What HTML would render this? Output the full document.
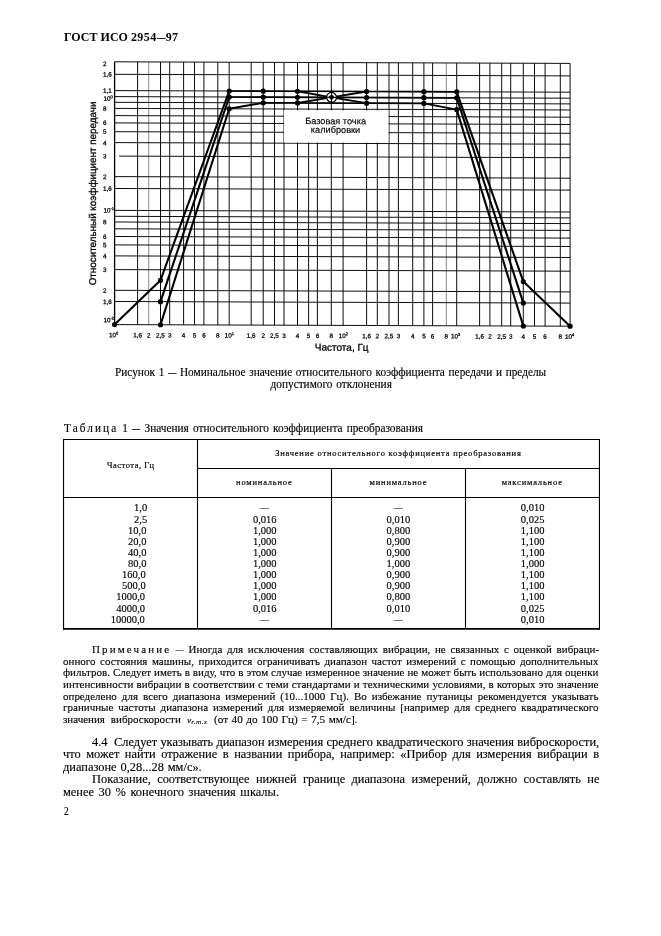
<!DOCTYPE html>
<html lang="ru">
<head>
<meta charset="utf-8">
<title>ГОСТ ИСО 2954—97</title>
<style>
html,body{margin:0;padding:0;background:#fff;}
body{width:661px;height:936px;position:relative;overflow:hidden;color:#000;}
.t{position:absolute;white-space:nowrap;margin:0;padding:0;-webkit-text-stroke:0.14px #000;}
.ln{position:absolute;background:#000;}
svg{position:absolute;left:0;top:0;}
svg text{font-family:'Liberation Sans',sans-serif;fill:#000;}
</style>
</head>
<body>
<svg width="661" height="936" viewBox="0 0 661 936">
<g transform="matrix(1 0.00351 0 1 0 -0.403)">
<line x1="114.60" y1="61.80" x2="114.60" y2="324.60" stroke="#000" stroke-width="1.3"/>
<line x1="137.60" y1="61.80" x2="137.60" y2="324.60" stroke="#000" stroke-width="0.95"/>
<line x1="148.70" y1="61.80" x2="148.70" y2="324.60" stroke="#888" stroke-width="1"/>
<line x1="160.50" y1="61.80" x2="160.50" y2="324.60" stroke="#000" stroke-width="0.95"/>
<line x1="169.70" y1="61.80" x2="169.70" y2="324.60" stroke="#000" stroke-width="0.95"/>
<line x1="183.60" y1="61.80" x2="183.60" y2="324.60" stroke="#000" stroke-width="0.95"/>
<line x1="194.50" y1="61.80" x2="194.50" y2="324.60" stroke="#000" stroke-width="0.95"/>
<line x1="203.90" y1="61.80" x2="203.90" y2="324.60" stroke="#000" stroke-width="0.95"/>
<line x1="217.80" y1="61.80" x2="217.80" y2="324.60" stroke="#000" stroke-width="0.95"/>
<line x1="229.20" y1="61.80" x2="229.20" y2="324.60" stroke="#000" stroke-width="0.95"/>
<line x1="251.20" y1="61.80" x2="251.20" y2="324.60" stroke="#000" stroke-width="0.95"/>
<line x1="263.20" y1="61.80" x2="263.20" y2="324.60" stroke="#000" stroke-width="0.95"/>
<line x1="274.50" y1="61.80" x2="274.50" y2="324.60" stroke="#000" stroke-width="0.95"/>
<line x1="284.00" y1="61.80" x2="284.00" y2="324.60" stroke="#000" stroke-width="0.95"/>
<line x1="297.50" y1="61.80" x2="297.50" y2="324.60" stroke="#000" stroke-width="0.95"/>
<line x1="308.60" y1="61.80" x2="308.60" y2="324.60" stroke="#000" stroke-width="0.95"/>
<line x1="317.40" y1="61.80" x2="317.40" y2="324.60" stroke="#000" stroke-width="0.95"/>
<line x1="331.30" y1="61.80" x2="331.30" y2="324.60" stroke="#000" stroke-width="0.95"/>
<line x1="343.10" y1="61.80" x2="343.10" y2="324.60" stroke="#000" stroke-width="0.95"/>
<line x1="366.60" y1="61.80" x2="366.60" y2="324.60" stroke="#000" stroke-width="0.95"/>
<line x1="377.30" y1="61.80" x2="377.30" y2="324.60" stroke="#000" stroke-width="0.95"/>
<line x1="389.00" y1="61.80" x2="389.00" y2="324.60" stroke="#000" stroke-width="0.95"/>
<line x1="398.40" y1="61.80" x2="398.40" y2="324.60" stroke="#000" stroke-width="0.95"/>
<line x1="412.70" y1="61.80" x2="412.70" y2="324.60" stroke="#000" stroke-width="0.95"/>
<line x1="423.90" y1="61.80" x2="423.90" y2="324.60" stroke="#000" stroke-width="0.95"/>
<line x1="432.60" y1="61.80" x2="432.60" y2="324.60" stroke="#000" stroke-width="0.95"/>
<line x1="446.30" y1="61.80" x2="446.30" y2="324.60" stroke="#888" stroke-width="1"/>
<line x1="456.70" y1="61.80" x2="456.70" y2="324.60" stroke="#000" stroke-width="0.95"/>
<line x1="479.60" y1="61.80" x2="479.60" y2="324.60" stroke="#000" stroke-width="0.95"/>
<line x1="489.90" y1="61.80" x2="489.90" y2="324.60" stroke="#000" stroke-width="0.95"/>
<line x1="501.70" y1="61.80" x2="501.70" y2="324.60" stroke="#000" stroke-width="0.95"/>
<line x1="510.70" y1="61.80" x2="510.70" y2="324.60" stroke="#000" stroke-width="0.95"/>
<line x1="523.30" y1="61.80" x2="523.30" y2="324.60" stroke="#000" stroke-width="0.95"/>
<line x1="534.50" y1="61.80" x2="534.50" y2="324.60" stroke="#000" stroke-width="0.95"/>
<line x1="545.10" y1="61.80" x2="545.10" y2="324.60" stroke="#000" stroke-width="0.95"/>
<line x1="560.30" y1="61.80" x2="560.30" y2="324.60" stroke="#000" stroke-width="0.95"/>
<line x1="570.10" y1="61.80" x2="570.10" y2="324.60" stroke="#000" stroke-width="0.95"/>
<line x1="114.60" y1="61.80" x2="570.10" y2="61.80" stroke="#000" stroke-width="0.95"/>
<line x1="114.60" y1="74.30" x2="570.10" y2="74.30" stroke="#000" stroke-width="0.95"/>
<line x1="114.60" y1="90.60" x2="570.10" y2="90.60" stroke="#000" stroke-width="0.95"/>
<line x1="114.60" y1="96.60" x2="570.10" y2="96.60" stroke="#000" stroke-width="0.95"/>
<line x1="114.60" y1="102.30" x2="570.10" y2="102.30" stroke="#000" stroke-width="0.95"/>
<line x1="114.60" y1="108.40" x2="570.10" y2="108.40" stroke="#000" stroke-width="0.95"/>
<line x1="114.60" y1="115.60" x2="570.10" y2="115.60" stroke="#000" stroke-width="0.95"/>
<line x1="114.60" y1="122.90" x2="570.10" y2="122.90" stroke="#000" stroke-width="0.95"/>
<line x1="114.60" y1="131.70" x2="570.10" y2="131.70" stroke="#000" stroke-width="0.95"/>
<line x1="114.60" y1="142.60" x2="570.10" y2="142.60" stroke="#000" stroke-width="0.95"/>
<line x1="119.10" y1="156.10" x2="570.10" y2="156.10" stroke="#000" stroke-width="0.95"/>
<line x1="114.60" y1="176.60" x2="570.10" y2="176.60" stroke="#000" stroke-width="0.95"/>
<line x1="114.60" y1="188.50" x2="570.10" y2="188.50" stroke="#000" stroke-width="0.95"/>
<line x1="114.60" y1="210.40" x2="570.10" y2="210.40" stroke="#000" stroke-width="0.95"/>
<line x1="114.60" y1="216.30" x2="570.10" y2="216.30" stroke="#000" stroke-width="0.95"/>
<line x1="114.60" y1="222.00" x2="570.10" y2="222.00" stroke="#000" stroke-width="0.95"/>
<line x1="114.60" y1="228.80" x2="570.10" y2="228.80" stroke="#000" stroke-width="0.95"/>
<line x1="114.60" y1="236.50" x2="570.10" y2="236.50" stroke="#000" stroke-width="0.95"/>
<line x1="114.60" y1="244.90" x2="570.10" y2="244.90" stroke="#000" stroke-width="0.95"/>
<line x1="114.60" y1="255.90" x2="570.10" y2="255.90" stroke="#000" stroke-width="0.95"/>
<line x1="114.60" y1="269.60" x2="570.10" y2="269.60" stroke="#000" stroke-width="0.95"/>
<line x1="114.60" y1="290.30" x2="570.10" y2="290.30" stroke="#000" stroke-width="0.95"/>
<line x1="114.60" y1="301.50" x2="570.10" y2="301.50" stroke="#000" stroke-width="0.95"/>
<line x1="114.60" y1="324.60" x2="570.10" y2="324.60" stroke="#000" stroke-width="0.95"/>
<rect x="284" y="109.6" width="104.5" height="32.2" fill="#fff"/>
<polyline fill="none" stroke="#000" stroke-width="2.1" stroke-linejoin="round" stroke-linecap="round" points="114.60,324.60 160.50,280.10"/>
<polyline fill="none" stroke="#000" stroke-width="2.1" stroke-linejoin="round" stroke-linecap="round" points="160.50,280.10 229.20,90.60"/>
<polyline fill="none" stroke="#000" stroke-width="1.7" stroke-linejoin="round" stroke-linecap="round" points="229.20,90.60 263.20,90.60"/>
<polyline fill="none" stroke="#000" stroke-width="1.7" stroke-linejoin="round" stroke-linecap="round" points="263.20,90.60 297.50,90.60"/>
<polyline fill="none" stroke="#000" stroke-width="1.9" stroke-linejoin="round" stroke-linecap="round" points="297.50,90.60 331.30,96.60"/>
<polyline fill="none" stroke="#000" stroke-width="1.9" stroke-linejoin="round" stroke-linecap="round" points="331.30,96.60 366.60,90.60"/>
<polyline fill="none" stroke="#000" stroke-width="1.7" stroke-linejoin="round" stroke-linecap="round" points="366.60,90.60 423.90,90.60"/>
<polyline fill="none" stroke="#000" stroke-width="1.7" stroke-linejoin="round" stroke-linecap="round" points="423.90,90.60 456.70,90.60"/>
<polyline fill="none" stroke="#000" stroke-width="2.1" stroke-linejoin="round" stroke-linecap="round" points="456.70,90.60 523.30,280.10"/>
<polyline fill="none" stroke="#000" stroke-width="2.1" stroke-linejoin="round" stroke-linecap="round" points="523.30,280.10 570.10,324.60"/>
<polyline fill="none" stroke="#000" stroke-width="2.1" stroke-linejoin="round" stroke-linecap="round" points="160.50,301.50 229.20,96.60"/>
<polyline fill="none" stroke="#000" stroke-width="1.7" stroke-linejoin="round" stroke-linecap="round" points="229.20,96.60 456.70,96.60"/>
<polyline fill="none" stroke="#000" stroke-width="2.1" stroke-linejoin="round" stroke-linecap="round" points="456.70,96.60 523.30,301.50"/>
<polyline fill="none" stroke="#000" stroke-width="2.1" stroke-linejoin="round" stroke-linecap="round" points="160.50,324.60 229.20,108.40"/>
<polyline fill="none" stroke="#000" stroke-width="1.9" stroke-linejoin="round" stroke-linecap="round" points="229.20,108.40 263.20,102.30"/>
<polyline fill="none" stroke="#000" stroke-width="1.7" stroke-linejoin="round" stroke-linecap="round" points="263.20,102.30 297.50,102.30"/>
<polyline fill="none" stroke="#000" stroke-width="1.9" stroke-linejoin="round" stroke-linecap="round" points="297.50,102.30 331.30,96.60"/>
<polyline fill="none" stroke="#000" stroke-width="1.9" stroke-linejoin="round" stroke-linecap="round" points="331.30,96.60 366.60,102.30"/>
<polyline fill="none" stroke="#000" stroke-width="1.7" stroke-linejoin="round" stroke-linecap="round" points="366.60,102.30 423.90,102.30"/>
<polyline fill="none" stroke="#000" stroke-width="1.9" stroke-linejoin="round" stroke-linecap="round" points="423.90,102.30 456.70,108.40"/>
<polyline fill="none" stroke="#000" stroke-width="2.1" stroke-linejoin="round" stroke-linecap="round" points="456.70,108.40 523.30,324.60"/>
<polyline fill="none" stroke="#000" stroke-width="1.5" stroke-linejoin="round" stroke-linecap="round" points="297.50,90.60 366.60,90.60"/>
<polyline fill="none" stroke="#000" stroke-width="1.5" stroke-linejoin="round" stroke-linecap="round" points="297.50,102.30 366.60,102.30"/>
<circle cx="114.60" cy="324.60" r="2.6" fill="#000"/>
<circle cx="160.50" cy="280.10" r="2.6" fill="#000"/>
<circle cx="160.50" cy="301.50" r="2.6" fill="#000"/>
<circle cx="160.50" cy="324.60" r="2.6" fill="#000"/>
<circle cx="523.30" cy="280.10" r="2.6" fill="#000"/>
<circle cx="523.30" cy="301.50" r="2.6" fill="#000"/>
<circle cx="523.30" cy="324.60" r="2.6" fill="#000"/>
<circle cx="570.10" cy="324.60" r="2.6" fill="#000"/>
<circle cx="229.20" cy="90.60" r="2.6" fill="#000"/>
<circle cx="229.20" cy="96.60" r="2.6" fill="#000"/>
<circle cx="229.20" cy="108.40" r="2.6" fill="#000"/>
<circle cx="456.70" cy="90.60" r="2.6" fill="#000"/>
<circle cx="456.70" cy="96.60" r="2.6" fill="#000"/>
<circle cx="456.70" cy="108.40" r="2.6" fill="#000"/>
<circle cx="263.20" cy="90.60" r="2.6" fill="#000"/>
<circle cx="263.20" cy="96.60" r="2.6" fill="#000"/>
<circle cx="263.20" cy="102.30" r="2.6" fill="#000"/>
<circle cx="297.50" cy="90.60" r="2.6" fill="#000"/>
<circle cx="297.50" cy="96.60" r="2.6" fill="#000"/>
<circle cx="297.50" cy="102.30" r="2.6" fill="#000"/>
<circle cx="366.60" cy="90.60" r="2.6" fill="#000"/>
<circle cx="366.60" cy="96.60" r="2.6" fill="#000"/>
<circle cx="366.60" cy="102.30" r="2.6" fill="#000"/>
<circle cx="423.90" cy="90.60" r="2.6" fill="#000"/>
<circle cx="423.90" cy="96.60" r="2.6" fill="#000"/>
<circle cx="423.90" cy="102.30" r="2.6" fill="#000"/>
<circle cx="331.55" cy="96.60" r="4.9" fill="#fff" stroke="#000" stroke-width="1.3"/>
<path d="M328.25 96.60L331.55 93.60L334.85 96.60L331.55 99.60Z" fill="#000"/>
<path d="M326.55 96.60H336.55M331.55 91.60V101.60" stroke="#000" stroke-width="1" fill="none"/>
<text x="103" y="66.00" font-size="6.3" stroke="#000" stroke-width="0.25">2</text>
<text x="103" y="76.60" font-size="6.3" stroke="#000" stroke-width="0.25">1,6</text>
<text x="103" y="92.80" font-size="6.3" stroke="#000" stroke-width="0.25">1,1</text>
<text x="103" y="111.00" font-size="6.3" stroke="#000" stroke-width="0.25">8</text>
<text x="103" y="125.10" font-size="6.3" stroke="#000" stroke-width="0.25">6</text>
<text x="103" y="133.90" font-size="6.3" stroke="#000" stroke-width="0.25">5</text>
<text x="103" y="145.30" font-size="6.3" stroke="#000" stroke-width="0.25">4</text>
<text x="103" y="158.60" font-size="6.3" stroke="#000" stroke-width="0.25">3</text>
<text x="103" y="179.00" font-size="6.3" stroke="#000" stroke-width="0.25">2</text>
<text x="103" y="190.80" font-size="6.3" stroke="#000" stroke-width="0.25">1,6</text>
<text x="103" y="224.30" font-size="6.3" stroke="#000" stroke-width="0.25">8</text>
<text x="103" y="239.10" font-size="6.3" stroke="#000" stroke-width="0.25">6</text>
<text x="103" y="247.20" font-size="6.3" stroke="#000" stroke-width="0.25">5</text>
<text x="103" y="258.40" font-size="6.3" stroke="#000" stroke-width="0.25">4</text>
<text x="103" y="272.00" font-size="6.3" stroke="#000" stroke-width="0.25">3</text>
<text x="103" y="292.70" font-size="6.3" stroke="#000" stroke-width="0.25">2</text>
<text x="103" y="304.00" font-size="6.3" stroke="#000" stroke-width="0.25">1,6</text>
<text x="103.50" y="100.90" font-size="6.3" stroke="#000" stroke-width="0.25">10<tspan dy="-2.7" font-size="4">0</tspan></text>
<text x="103.50" y="212.60" font-size="6.3" stroke="#000" stroke-width="0.25">10<tspan dy="-2.7" font-size="4">-1</tspan></text>
<text x="103.50" y="322.20" font-size="6.3" stroke="#000" stroke-width="0.25">10<tspan dy="-2.7" font-size="4">-2</tspan></text>
<text x="137.60" y="337.3" font-size="6.3" text-anchor="middle" stroke="#000" stroke-width="0.25">1,6</text>
<text x="148.70" y="337.3" font-size="6.3" text-anchor="middle" stroke="#000" stroke-width="0.25">2</text>
<text x="160.50" y="337.3" font-size="6.3" text-anchor="middle" stroke="#000" stroke-width="0.25">2,5</text>
<text x="169.70" y="337.3" font-size="6.3" text-anchor="middle" stroke="#000" stroke-width="0.25">3</text>
<text x="183.60" y="337.3" font-size="6.3" text-anchor="middle" stroke="#000" stroke-width="0.25">4</text>
<text x="194.50" y="337.3" font-size="6.3" text-anchor="middle" stroke="#000" stroke-width="0.25">5</text>
<text x="203.90" y="337.3" font-size="6.3" text-anchor="middle" stroke="#000" stroke-width="0.25">6</text>
<text x="217.80" y="337.3" font-size="6.3" text-anchor="middle" stroke="#000" stroke-width="0.25">8</text>
<text x="251.20" y="337.3" font-size="6.3" text-anchor="middle" stroke="#000" stroke-width="0.25">1,6</text>
<text x="263.20" y="337.3" font-size="6.3" text-anchor="middle" stroke="#000" stroke-width="0.25">2</text>
<text x="274.50" y="337.3" font-size="6.3" text-anchor="middle" stroke="#000" stroke-width="0.25">2,5</text>
<text x="284.00" y="337.3" font-size="6.3" text-anchor="middle" stroke="#000" stroke-width="0.25">3</text>
<text x="297.50" y="337.3" font-size="6.3" text-anchor="middle" stroke="#000" stroke-width="0.25">4</text>
<text x="308.60" y="337.3" font-size="6.3" text-anchor="middle" stroke="#000" stroke-width="0.25">5</text>
<text x="317.40" y="337.3" font-size="6.3" text-anchor="middle" stroke="#000" stroke-width="0.25">6</text>
<text x="331.30" y="337.3" font-size="6.3" text-anchor="middle" stroke="#000" stroke-width="0.25">8</text>
<text x="366.60" y="337.3" font-size="6.3" text-anchor="middle" stroke="#000" stroke-width="0.25">1,6</text>
<text x="377.30" y="337.3" font-size="6.3" text-anchor="middle" stroke="#000" stroke-width="0.25">2</text>
<text x="389.00" y="337.3" font-size="6.3" text-anchor="middle" stroke="#000" stroke-width="0.25">2,5</text>
<text x="398.40" y="337.3" font-size="6.3" text-anchor="middle" stroke="#000" stroke-width="0.25">3</text>
<text x="412.70" y="337.3" font-size="6.3" text-anchor="middle" stroke="#000" stroke-width="0.25">4</text>
<text x="423.90" y="337.3" font-size="6.3" text-anchor="middle" stroke="#000" stroke-width="0.25">5</text>
<text x="432.60" y="337.3" font-size="6.3" text-anchor="middle" stroke="#000" stroke-width="0.25">6</text>
<text x="446.30" y="337.3" font-size="6.3" text-anchor="middle" stroke="#000" stroke-width="0.25">8</text>
<text x="479.60" y="337.3" font-size="6.3" text-anchor="middle" stroke="#000" stroke-width="0.25">1,6</text>
<text x="489.90" y="337.3" font-size="6.3" text-anchor="middle" stroke="#000" stroke-width="0.25">2</text>
<text x="501.70" y="337.3" font-size="6.3" text-anchor="middle" stroke="#000" stroke-width="0.25">2,5</text>
<text x="510.70" y="337.3" font-size="6.3" text-anchor="middle" stroke="#000" stroke-width="0.25">3</text>
<text x="523.30" y="337.3" font-size="6.3" text-anchor="middle" stroke="#000" stroke-width="0.25">4</text>
<text x="534.50" y="337.3" font-size="6.3" text-anchor="middle" stroke="#000" stroke-width="0.25">5</text>
<text x="545.10" y="337.3" font-size="6.3" text-anchor="middle" stroke="#000" stroke-width="0.25">6</text>
<text x="560.30" y="337.3" font-size="6.3" text-anchor="middle" stroke="#000" stroke-width="0.25">8</text>
<text x="109.00" y="337.20" font-size="6.3" stroke="#000" stroke-width="0.25">10<tspan dy="-2.7" font-size="4">0</tspan></text>
<text x="224.70" y="337.20" font-size="6.3" stroke="#000" stroke-width="0.25">10<tspan dy="-2.7" font-size="4">1</tspan></text>
<text x="338.70" y="337.20" font-size="6.3" stroke="#000" stroke-width="0.25">10<tspan dy="-2.7" font-size="4">2</tspan></text>
<text x="450.90" y="337.20" font-size="6.3" stroke="#000" stroke-width="0.25">10<tspan dy="-2.7" font-size="4">3</tspan></text>
<text x="564.90" y="337.20" font-size="6.3" stroke="#000" stroke-width="0.25">10<tspan dy="-2.7" font-size="4">4</tspan></text>
<text x="341.7" y="349.9" font-size="10" text-anchor="middle" stroke="#000" stroke-width="0.3">Частота, Гц</text>
<text transform="translate(95.7,193.5) rotate(-90)" font-size="9.85" text-anchor="middle" stroke="#000" stroke-width="0.3">Относительный коэффициент передачи</text>
<text x="335.6" y="123.4" font-size="9.2" text-anchor="middle" stroke="#000" stroke-width="0.15">Базовая точка</text>
<text x="335.5" y="132.1" font-size="9.2" text-anchor="middle" stroke="#000" stroke-width="0.15">калибровки</text>
</g>
</svg>
<svg width="661" height="936" viewBox="0 0 661 936">
<g stroke="#000" stroke-width="1.1" fill="none">
<path d="M63 439.45H600"/>
<path d="M197.5 468.5H600"/>
<path d="M63 497.5H600"/>
<path d="M63.55 439V629.8"/>
<path d="M197.5 439V629"/>
<path d="M331.5 468.5V629"/>
<path d="M465.5 468.5V629"/>
<path d="M599.45 439V629.8"/>
<path d="M63 628.95H600" stroke-width="1.7"/>
</g>
</svg>
<div class="t" style="left:64.00px;top:30.00px;font:bold 12px/15px 'Liberation Serif', serif;-webkit-text-stroke:0;transform:scaleX(1.0013);transform-origin:0 0;">ГОСТ ИСО <span style="letter-spacing:0.45px">2954</span><span style="display:inline-block;transform:scaleX(0.74);margin:0 -1.56px">—</span><span style="letter-spacing:0.3px">97</span></div>
<div class="t" style="left:114.90px;top:364.80px;font:normal 11.6px/15px 'Liberation Serif', serif;word-spacing:0.886px;transform:scaleX(0.9750);transform-origin:0 0;">Рисунок 1 <span style="display:inline-block;transform:scaleX(0.72);margin:0 -1.62px">—</span> Номинальное значение относительного коэффициента передачи и пределы</div>
<div class="t" style="left:268.78px;top:376.80px;font:normal 11.6px/15px 'Liberation Serif', serif;word-spacing:1px;transform:scaleX(0.9750);transform-origin:50% 0;">допустимого отклонения</div>
<div class="t" style="left:64.00px;top:420.80px;font:normal 11.6px/15px 'Liberation Serif', serif;word-spacing:1.378px;transform:scaleX(0.9750);transform-origin:0 0;"><span style="letter-spacing:2.1px">Таблица</span> 1 <span style="display:inline-block;transform:scaleX(0.72);margin:0 -1.62px">—</span> Значения относительного коэффициента преобразования</div>
<div class="t" style="left:91.70px;top:642.10px;font:normal 11.4px/15px 'Liberation Serif', serif;word-spacing:2.036px;transform:scaleX(0.9650);transform-origin:0 0;"><span style="letter-spacing:2.2px">Примечание</span> <span style="display:inline-block;transform:scaleX(0.72);margin:0 -1.60px">—</span> Иногда для исключения составляющих вибрации, не связанных с оценкой вибраци-</div>
<div class="t" style="left:63.40px;top:653.70px;font:normal 11.4px/15px 'Liberation Serif', serif;word-spacing:1.837px;transform:scaleX(0.9650);transform-origin:0 0;">онного состояния машины, приходится ограничивать диапазон частот измерений с помощью дополнительных</div>
<div class="t" style="left:63.40px;top:665.30px;font:normal 11.4px/15px 'Liberation Serif', serif;word-spacing:0.254px;transform:scaleX(0.9650);transform-origin:0 0;">фильтров. Следует иметь в виду, что в этом случае измеренное значение не может быть использовано для оценки</div>
<div class="t" style="left:63.40px;top:676.90px;font:normal 11.4px/15px 'Liberation Serif', serif;word-spacing:0.392px;transform:scaleX(0.9650);transform-origin:0 0;">интенсивности вибрации в соответствии с теми стандартами и техническими условиями, в которых это значение</div>
<div class="t" style="left:63.40px;top:688.50px;font:normal 11.4px/15px 'Liberation Serif', serif;word-spacing:2.374px;transform:scaleX(0.9650);transform-origin:0 0;">определено для всего диапазона измерений (10...1000 Гц). Во избежание путаницы рекомендуется указывать</div>
<div class="t" style="left:63.40px;top:700.10px;font:normal 11.4px/15px 'Liberation Serif', serif;word-spacing:2.221px;transform:scaleX(0.9650);transform-origin:0 0;">граничные частоты диапазона измерений для измеряемой величины [например для среднего квадратического</div>
<div class="t" style="left:63.40px;top:711.70px;font:normal 11.4px/15px 'Liberation Serif', serif;word-spacing:3.354px;transform:scaleX(0.9650);transform-origin:0 0;">значения виброскорости</div>
<div class="t" style="left:186.60px;top:714.70px;font:normal 8.5px/11px 'Liberation Serif', serif;transform:scaleX(1.1229);transform-origin:0 0;"><i>v<span style="font-size:6.5px;letter-spacing:0.4px;position:relative;top:1px">r.m.s</span></i></div>
<div class="t" style="left:213.90px;top:711.70px;font:normal 11.4px/15px 'Liberation Serif', serif;word-spacing:0.812px;transform:scaleX(0.9800);transform-origin:0 0;">(от 40 до 100 Гц) = 7,5 мм/с].</div>
<div class="t" style="left:92.00px;top:733.70px;font:normal 12.6px/16px 'Liberation Serif', serif;word-spacing:0.174px;transform:scaleX(0.9850);transform-origin:0 0;">4.4&nbsp; Следует указывать диапазон измерения среднего квадратического значения виброскорости,</div>
<div class="t" style="left:63.20px;top:746.20px;font:normal 12.6px/16px 'Liberation Serif', serif;word-spacing:2.473px;transform:scaleX(0.9850);transform-origin:0 0;">что может найти отражение в названии прибора, например: «Прибор для измерения вибрации в</div>
<div class="t" style="left:63.20px;top:758.70px;font:normal 12.6px/16px 'Liberation Serif', serif;word-spacing:0.765px;transform:scaleX(0.9850);transform-origin:0 0;">диапазоне 0,28...28 мм/с».</div>
<div class="t" style="left:91.80px;top:771.20px;font:normal 12.6px/16px 'Liberation Serif', serif;word-spacing:3.311px;transform:scaleX(0.9850);transform-origin:0 0;">Показание, соответствующее нижней границе диапазона измерений, должно составлять не</div>
<div class="t" style="left:63.20px;top:783.70px;font:normal 12.6px/16px 'Liberation Serif', serif;word-spacing:1.489px;transform:scaleX(0.9850);transform-origin:0 0;">менее 30 % конечного значения шкалы.</div>
<div class="t" style="left:63.60px;top:804.00px;font:normal 11.8px/15px 'Liberation Serif', serif;transform:scaleX(0.7958);transform-origin:0 0;">2</div>
<div class="t" style="left:107.10px;top:460.10px;font:normal 8.5px/11px 'Liberation Serif', serif;-webkit-text-stroke:0.18px #000;letter-spacing:0.487px;">Частота, Гц</div>
<div class="t" style="left:275.15px;top:448.10px;font:normal 8.5px/11px 'Liberation Serif', serif;-webkit-text-stroke:0.18px #000;letter-spacing:0.789px;">Значение относительного коэффициента преобразования</div>
<div class="t" style="left:236.05px;top:476.60px;font:normal 8.5px/11px 'Liberation Serif', serif;-webkit-text-stroke:0.18px #000;letter-spacing:0.793px;">номинальное</div>
<div class="t" style="left:369.55px;top:476.60px;font:normal 8.5px/11px 'Liberation Serif', serif;-webkit-text-stroke:0.18px #000;letter-spacing:0.790px;">минимальное</div>
<div class="t" style="left:501.65px;top:476.60px;font:normal 8.5px/11px 'Liberation Serif', serif;-webkit-text-stroke:0.18px #000;letter-spacing:0.818px;">максимальное</div>
<div class="t" style="left:134.07px;top:501.40px;font:normal 10.5px/14px 'Liberation Serif', serif;">1,0</div>
<div class="t" style="left:260.07px;top:501.40px;font:normal 10.5px/14px 'Liberation Serif', serif;"><span style="display:inline-block;transform:scaleX(0.88);margin:0 -0.63px">—</span></div>
<div class="t" style="left:393.77px;top:501.40px;font:normal 10.5px/14px 'Liberation Serif', serif;"><span style="display:inline-block;transform:scaleX(0.88);margin:0 -0.63px">—</span></div>
<div class="t" style="left:520.79px;top:501.40px;font:normal 10.5px/14px 'Liberation Serif', serif;">0,010</div>
<div class="t" style="left:134.07px;top:512.50px;font:normal 10.5px/14px 'Liberation Serif', serif;">2,5</div>
<div class="t" style="left:252.89px;top:512.50px;font:normal 10.5px/14px 'Liberation Serif', serif;">0,016</div>
<div class="t" style="left:386.59px;top:512.50px;font:normal 10.5px/14px 'Liberation Serif', serif;">0,010</div>
<div class="t" style="left:520.79px;top:512.50px;font:normal 10.5px/14px 'Liberation Serif', serif;">0,025</div>
<div class="t" style="left:128.03px;top:523.75px;font:normal 10.5px/14px 'Liberation Serif', serif;">10,0</div>
<div class="t" style="left:252.89px;top:523.75px;font:normal 10.5px/14px 'Liberation Serif', serif;">1,000</div>
<div class="t" style="left:386.59px;top:523.75px;font:normal 10.5px/14px 'Liberation Serif', serif;">0,800</div>
<div class="t" style="left:520.79px;top:523.75px;font:normal 10.5px/14px 'Liberation Serif', serif;">1,100</div>
<div class="t" style="left:128.03px;top:534.70px;font:normal 10.5px/14px 'Liberation Serif', serif;">20,0</div>
<div class="t" style="left:252.89px;top:534.70px;font:normal 10.5px/14px 'Liberation Serif', serif;">1,000</div>
<div class="t" style="left:386.59px;top:534.70px;font:normal 10.5px/14px 'Liberation Serif', serif;">0,900</div>
<div class="t" style="left:520.79px;top:534.70px;font:normal 10.5px/14px 'Liberation Serif', serif;">1,100</div>
<div class="t" style="left:128.03px;top:546.00px;font:normal 10.5px/14px 'Liberation Serif', serif;">40,0</div>
<div class="t" style="left:252.89px;top:546.00px;font:normal 10.5px/14px 'Liberation Serif', serif;">1,000</div>
<div class="t" style="left:386.59px;top:546.00px;font:normal 10.5px/14px 'Liberation Serif', serif;">0,900</div>
<div class="t" style="left:520.79px;top:546.00px;font:normal 10.5px/14px 'Liberation Serif', serif;">1,100</div>
<div class="t" style="left:128.03px;top:556.80px;font:normal 10.5px/14px 'Liberation Serif', serif;">80,0</div>
<div class="t" style="left:252.89px;top:556.80px;font:normal 10.5px/14px 'Liberation Serif', serif;">1,000</div>
<div class="t" style="left:386.59px;top:556.80px;font:normal 10.5px/14px 'Liberation Serif', serif;">1,000</div>
<div class="t" style="left:520.79px;top:556.80px;font:normal 10.5px/14px 'Liberation Serif', serif;">1,000</div>
<div class="t" style="left:122.07px;top:567.90px;font:normal 10.5px/14px 'Liberation Serif', serif;">160,0</div>
<div class="t" style="left:252.89px;top:567.90px;font:normal 10.5px/14px 'Liberation Serif', serif;">1,000</div>
<div class="t" style="left:386.59px;top:567.90px;font:normal 10.5px/14px 'Liberation Serif', serif;">0,900</div>
<div class="t" style="left:520.79px;top:567.90px;font:normal 10.5px/14px 'Liberation Serif', serif;">1,100</div>
<div class="t" style="left:122.07px;top:579.30px;font:normal 10.5px/14px 'Liberation Serif', serif;">500,0</div>
<div class="t" style="left:252.89px;top:579.30px;font:normal 10.5px/14px 'Liberation Serif', serif;">1,000</div>
<div class="t" style="left:386.59px;top:579.30px;font:normal 10.5px/14px 'Liberation Serif', serif;">0,900</div>
<div class="t" style="left:520.79px;top:579.30px;font:normal 10.5px/14px 'Liberation Serif', serif;">1,100</div>
<div class="t" style="left:116.22px;top:590.40px;font:normal 10.5px/14px 'Liberation Serif', serif;">1000,0</div>
<div class="t" style="left:252.89px;top:590.40px;font:normal 10.5px/14px 'Liberation Serif', serif;">1,000</div>
<div class="t" style="left:386.59px;top:590.40px;font:normal 10.5px/14px 'Liberation Serif', serif;">0,800</div>
<div class="t" style="left:520.79px;top:590.40px;font:normal 10.5px/14px 'Liberation Serif', serif;">1,100</div>
<div class="t" style="left:116.22px;top:601.50px;font:normal 10.5px/14px 'Liberation Serif', serif;">4000,0</div>
<div class="t" style="left:252.89px;top:601.50px;font:normal 10.5px/14px 'Liberation Serif', serif;">0,016</div>
<div class="t" style="left:386.59px;top:601.50px;font:normal 10.5px/14px 'Liberation Serif', serif;">0,010</div>
<div class="t" style="left:520.79px;top:601.50px;font:normal 10.5px/14px 'Liberation Serif', serif;">0,025</div>
<div class="t" style="left:110.68px;top:612.60px;font:normal 10.5px/14px 'Liberation Serif', serif;">10000,0</div>
<div class="t" style="left:260.07px;top:612.60px;font:normal 10.5px/14px 'Liberation Serif', serif;"><span style="display:inline-block;transform:scaleX(0.88);margin:0 -0.63px">—</span></div>
<div class="t" style="left:393.77px;top:612.60px;font:normal 10.5px/14px 'Liberation Serif', serif;"><span style="display:inline-block;transform:scaleX(0.88);margin:0 -0.63px">—</span></div>
<div class="t" style="left:520.79px;top:612.60px;font:normal 10.5px/14px 'Liberation Serif', serif;">0,010</div>
</body>
</html>
